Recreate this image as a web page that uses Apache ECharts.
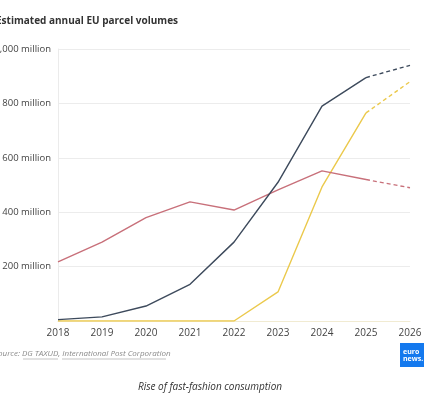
<!DOCTYPE html>
<html>
<head>
<meta charset="utf-8">
<script src="https://cdn.jsdelivr.net/npm/echarts@6/dist/echarts.min.js"></script>
<style>
  html, body { margin: 0; padding: 0; background: #fff; }
  #chart { width: 428px; height: 400px; }
</style>
</head>
<body>
<div id="chart"></div>
<script>
// data (million parcels), last year is a projection
const years = ['2018', '2019', '2020', '2021', '2022', '2023', '2024', '2025', '2026']
const navyVals = [5, 15, 55, 135, 290, 510, 790, 895, 940]
const redVals = [217, 290, 380, 438, 408, 482, 552, 520, 490]
const yellowVals = [0, 0, 0, 0, 0, 107, 493, 765, 880]
const yTicks = [0, 200, 400, 600, 800, 1000]

const navy = '#3d4a5c'
const red = '#c8707a'
const yellow = '#ebc94c'

// split each series into solid part and dashed projection
function solid(arr) {
    return arr.map((v, i) => (i < arr.length - 1 ? v : null))
}
function dashed(arr) {
    return arr.map((v, i) => (i >= arr.length - 2 ? v : null))
}

function lineSeries(data, color, isDashed) {
    return {
        type: 'line',
        data: data,
        symbol: 'none',
        connectNulls: false,
        silent: true,
        lineStyle: { color: color, width: 1.4, type: isDashed ? [4, 3] : 'solid' }
    }
}

const chart = echarts.init(document.getElementById('chart'))

const option = {
    animation: false,
    textStyle: { fontFamily: 'Open Sans' },
    title: {
        text: 'Estimated annual EU parcel volumes',
        left: -9,
        top: 11,
        textStyle: { fontSize: 10, fontWeight: 'bold', color: '#333', fontFamily: 'Open Sans' }
    },
    grid: { left: 58, right: 18, top: 49, bottom: 79, outerBoundsMode: 'none', containLabel: false },
    xAxis: {
        type: 'category',
        data: years,
        boundaryGap: false,
        axisLine: { show: true, lineStyle: { color: '#f1ebd2', width: 1 } },
        axisTick: { show: false },
        axisLabel: { fontSize: 10, color: '#444', margin: 7 }
    },
    yAxis: {
        type: 'value',
        min: yTicks[0],
        max: yTicks[yTicks.length - 1],
        interval: 200,
        axisLine: { show: true, lineStyle: { color: '#ebebeb' } },
        axisTick: { show: false },
        splitLine: { lineStyle: { color: '#ececec' } },
        axisLabel: {
            fontSize: 9.5,
            color: '#444',
            margin: 7,
            formatter: function (v) {
                if (v === 0) return ''
                if (v >= 1000) return '1,000 million'
                return v + ' million'
            }
        }
    },
    series: [
        lineSeries(solid(yellowVals), yellow, false),
        lineSeries(dashed(yellowVals), yellow, true),
        lineSeries(solid(redVals), red, false),
        lineSeries(dashed(redVals), red, true),
        lineSeries(solid(navyVals), navy, false),
        lineSeries(dashed(navyVals), navy, true)
    ],
    graphic: [
        {
            type: 'text',
            x: -6,
            y: 350,
            style: {
                text: 'Source: DG TAXUD, International Post Corporation',
                font: 'italic 8px "Open Sans"',
                fill: '#8a8a8a'
            }
        },
        { type: 'line', shape: { x1: 23, y1: 359, x2: 58, y2: 359 }, style: { stroke: '#9a9a9a', lineWidth: 0.6 } },
        { type: 'line', shape: { x1: 62, y1: 359, x2: 166, y2: 359 }, style: { stroke: '#9a9a9a', lineWidth: 0.6 } },
        {
            type: 'rect',
            shape: { x: 400, y: 343, width: 24, height: 24 },
            style: { fill: '#1479ee' }
        },
        {
            type: 'text',
            x: 403,
            y: 348,
            style: {
                text: 'euro\nnews.',
                font: 'bold 7px "Open Sans"',
                lineHeight: 7,
                fill: '#ffffff'
            }
        },
        {
            type: 'text',
            x: 210,
            y: 387,
            style: {
                text: 'Rise of fast-fashion consumption',
                font: 'italic 10px "Open Sans"',
                fill: '#333',
                textAlign: 'center',
                textVerticalAlign: 'middle'
            }
        }
    ]
}

chart.setOption(option)
</script>
</body>
</html>
